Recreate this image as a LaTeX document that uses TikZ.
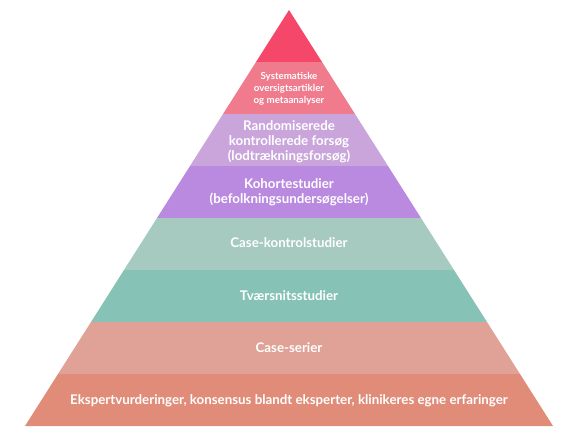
\documentclass[tikz,border=0pt]{standalone}
\usepackage{fontspec}
\setmainfont{Lato}

\definecolor{topred}{HTML}{F4476A}
\definecolor{sysred}{HTML}{EF7B8D}
\definecolor{randlilla}{HTML}{C9A5DB}
\definecolor{kohlilla}{HTML}{B98ADF}
\definecolor{kontgron}{HTML}{A6C9C0}
\definecolor{tvgron}{HTML}{86C3B6}
\definecolor{serlaks}{HTML}{E0A296}
\definecolor{ekslaks}{HTML}{E08C78}

\tikzset{
  lbl/.style={text=white,font=\bfseries\fontsize{13.3}{15}\selectfont,align=center,inner sep=0pt},
  smalllbl/.style={lbl,font=\bfseries\fontsize{9.7}{12}\selectfont}
}

\begin{document}
\begin{tikzpicture}[x=1pt,y=-1pt]
    \useasboundingbox (0,0) rectangle (585,434);

    % lagene i pyramiden, top til bund
    \fill[topred] (289,10) -- (322,62) -- (256,62) -- cycle;
    \fill[sysred] (256,62) -- (322,62) -- (355,114) -- (223,114) -- cycle;
    \fill[randlilla] (223,114) -- (355,114) -- (388,166) -- (190,166) -- cycle;
    \fill[kohlilla] (190,166) -- (388,166) -- (421,218) -- (157,218) -- cycle;
    \fill[kontgron] (157,218) -- (421,218) -- (454,270) -- (124,270) -- cycle;
    \fill[tvgron] (124,270) -- (454,270) -- (487,322) -- (91,322) -- cycle;
    \fill[serlaks] (91,322) -- (487,322) -- (520,374) -- (58,374) -- cycle;
    \fill[ekslaks] (58,374) -- (520,374) -- (553,426) -- (25,426) -- cycle;

    % tekster
    \node[smalllbl] (sys) at (289,89) {Systematiske\\oversigtsartikler\\og metaanalyser};
    \node[lbl] (rand) at (289,142) {Randomiserede\\kontrollerede forsøg\\(lodtrækningsforsøg)};
    \node[lbl] (koh) at (289,192) {Kohortestudier\\(befolkningsundersøgelser)};
    \node[lbl] (kont) at (289,243) {Case-kontrolstudier};
    \node[lbl] (tv) at (289,296) {Tværsnitsstudier};
    \node[lbl] (ser) at (289,348) {Case-serier};
    \node[lbl] (eks) at (289,401) {Ekspertvurderinger, konsensus blandt eksperter, klinikeres egne erfaringer};
\end{tikzpicture}
\end{document}
